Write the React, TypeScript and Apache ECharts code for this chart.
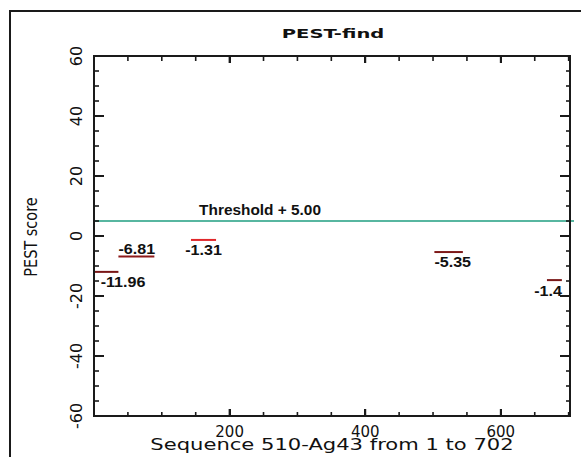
import React, { useEffect, useRef } from "react";
import * as echarts from "echarts";

// ---- data ----
const sequenceStart = 0;
const sequenceEnd = 702;
const scoreMin = -60;
const scoreMax = 60;

const xTickValues = [50, 100, 150, 200, 250, 300, 350, 400, 450, 500, 550, 600, 650, 700];
const yTickValues = [-55, -50, -45, -40, -35, -30, -25, -20, -15, -10, -5, 0, 5, 10, 15, 20, 25, 30, 35, 40, 45, 50, 55];

const segmentStart = [1, 36, 143, 502, 668];
const segmentEnd = [36, 89, 180, 544, 690];
const segmentScore = [-11.96, -6.81, -1.31, -5.35, -14.7];
const segmentLabel = ["-11.96", "-6.81", "-1.31", "-5.35", "-1.4"];

const thresholdStart = 1;
const thresholdEnd = 702;
const thresholdValue = 5;
const thresholdText = "Threshold + 5.00";

const chartTitle = "PEST-find";
const xAxisTitle = "Sequence 510-Ag43 from 1 to 702";
const yAxisTitle = "PEST score";

// ---- layout / style (not data) ----
const labelPlacement = ["below-left", "above-left", "below-center", "below-left", "below-right"];
const segmentColors = ["#7a1616", "#8e1a1a", "#e0272a", "#7e1818", "#7a1818"];
const thresholdLabelAt = 155;

export default function App() {
  const ref = useRef<HTMLDivElement>(null);

  useEffect(() => {
    if (!ref.current) return;
    const chart = echarts.init(ref.current, null, { renderer: "svg" });

    const axisFont = "DejaVu Sans";
    const labelFont = "Liberation Sans";
    const ink = "#111111";
    const stroke = "#1a1a1a";

    const makeX = (position: string, withLabels: boolean) => ({
      type: "value",
      position,
      min: sequenceStart,
      max: sequenceEnd,
      interval: 200,
      axisLine: { show: true, onZero: false, lineStyle: { color: stroke, width: 2 } },
      axisTick: { show: true, inside: true, length: 7, lineStyle: { color: stroke, width: 2 } },
      splitLine: { show: false },
      axisLabel: withLabels
        ? {
            show: true,
            margin: 8,
            color: ink,
            fontFamily: axisFont,
            fontSize: 15,
            formatter: (v: number) =>
              v > sequenceStart && v < sequenceEnd && v % 200 === 0 ? String(v) : "",
          }
        : { show: false },
    });

    const makeY = (position: string, withLabels: boolean) => ({
      type: "value",
      position,
      min: scoreMin,
      max: scoreMax,
      interval: 20,
      axisLine: { show: true, onZero: false, lineStyle: { color: stroke, width: 2 } },
      axisTick: { show: true, inside: true, length: 10, lineStyle: { color: stroke, width: 2 } },
      splitLine: { show: false },
      axisLabel: withLabels
        ? { show: true, rotate: 90, margin: 10, color: ink, fontFamily: axisFont, fontSize: 16 }
        : { show: false },
    });

    const segData = segmentStart.map((s, i) => [s, segmentEnd[i], segmentScore[i], i]);

    const option: any = {
      animation: false,
      backgroundColor: "#ffffff",
      grid: { left: 94, top: 56, right: 11, bottom: 41 },
      xAxis: [makeX("bottom", true), makeX("top", false)],
      yAxis: [makeY("left", true), makeY("right", false)],
      graphic: [
        {
          type: "rect",
          z: -10,
          shape: { x: 10, y: 11, width: 700, height: 600 },
          style: { fill: "none", stroke: "#1a1a1a", lineWidth: 2 },
        },
        {
          type: "text",
          x: 333,
          y: 34,
          scaleX: 1.5,
          style: {
            text: chartTitle,
            fontSize: 13,
            fontWeight: "bold",
            fontFamily: axisFont,
            fill: ink,
            textAlign: "center",
            textVerticalAlign: "middle",
          },
        },
        {
          type: "text",
          x: 332,
          y: 445,
          scaleX: 1.36,
          style: {
            text: xAxisTitle,
            fontSize: 15.5,
            fontFamily: axisFont,
            fill: ink,
            textAlign: "center",
            textVerticalAlign: "middle",
          },
        },
        {
          type: "text",
          x: 31,
          y: 237,
          rotation: Math.PI / 2,
          scaleY: 1.2,
          style: {
            text: yAxisTitle,
            fontSize: 14.5,
            fontFamily: axisFont,
            fill: ink,
            textAlign: "center",
            textVerticalAlign: "middle",
          },
        },
      ],
      series: [
        {
          // plot frame and inward ticks, placed through the axes' scales
          type: "custom",
          name: "frame",
          xAxisIndex: 0,
          yAxisIndex: 0,
          clip: false,
          silent: true,
          z: 5,
          data: [[sequenceStart, scoreMin]],
          renderItem: (params: any, api: any) => {
            const tl = api.coord([sequenceStart, scoreMax]);
            const br = api.coord([sequenceEnd, scoreMin]);
            const children: any[] = [
              {
                type: "rect",
                shape: { x: tl[0], y: tl[1], width: br[0] - tl[0], height: br[1] - tl[1] },
                style: { fill: "none", stroke, lineWidth: 2 },
              },
            ];
            xTickValues.forEach((v) => {
              const px = api.coord([v, scoreMin])[0];
              const major = v % 200 === 0;
              const lenB = major ? 7 : 4;
              const lenT = major ? 7 : 5;
              children.push({
                type: "line",
                shape: { x1: px, y1: br[1], x2: px, y2: br[1] - lenB },
                style: { stroke, lineWidth: major ? 2 : 1.6 },
              });
              children.push({
                type: "line",
                shape: { x1: px, y1: tl[1], x2: px, y2: tl[1] + lenT },
                style: { stroke, lineWidth: major ? 2 : 1.6 },
              });
            });
            yTickValues.forEach((v) => {
              const py = api.coord([sequenceStart, v])[1];
              const major = v % 20 === 0;
              const lenL = major ? 10 : 5;
              const lenR = major ? 9 : 4;
              children.push({
                type: "line",
                shape: { x1: tl[0], y1: py, x2: tl[0] + lenL, y2: py },
                style: { stroke, lineWidth: major ? 2 : 1.6 },
              });
              children.push({
                type: "line",
                shape: { x1: br[0], y1: py, x2: br[0] - lenR, y2: py },
                style: { stroke, lineWidth: major ? 2 : 1.6 },
              });
            });
            return { type: "group", children };
          },
        },
        {
          type: "custom",
          name: "threshold",
          xAxisIndex: 0,
          yAxisIndex: 0,
          clip: false,
          data: [[thresholdStart, thresholdEnd, thresholdValue]],
          encode: { x: [0, 1], y: 2 },
          renderItem: (params: any, api: any) => {
            const p1 = api.coord([api.value(0), api.value(2)]);
            const p2 = api.coord([api.value(1), api.value(2)]);
            const lp = api.coord([thresholdLabelAt, api.value(2)]);
            return {
              type: "group",
              children: [
                {
                  type: "line",
                  shape: { x1: p1[0], y1: p1[1], x2: p2[0] + 4, y2: p2[1] },
                  style: { stroke: "#1f9e80", lineWidth: 1.6 },
                },
                {
                  type: "text",
                  x: lp[0],
                  y: lp[1] - 4,
                  scaleX: 1.1,
                  style: {
                    text: thresholdText,
                    fontSize: 14,
                    fontWeight: "bold",
                    fontFamily: labelFont,
                    fill: ink,
                    textAlign: "left",
                    textVerticalAlign: "bottom",
                  },
                },
              ],
            };
          },
        },
        {
          type: "custom",
          name: "PEST regions",
          xAxisIndex: 0,
          yAxisIndex: 0,
          clip: false,
          data: segData,
          encode: { x: [0, 1], y: 2 },
          renderItem: (params: any, api: any) => {
            const idx = api.value(3);
            const p1 = api.coord([api.value(0), api.value(2)]);
            const p2 = api.coord([api.value(1), api.value(2)]);
            const place = labelPlacement[idx];
            let tx = p1[0];
            let ty = p1[1];
            let align = "left";
            let valign = "top";
            if (place === "below-left") {
              tx = p1[0] + (idx === 0 ? 6 : 0);
              ty = p1[1] + 3;
            } else if (place === "above-left") {
              tx = p1[0];
              ty = p1[1] - 1;
              valign = "bottom";
            } else if (place === "below-center") {
              tx = (p1[0] + p2[0]) / 2;
              ty = p1[1] + 3;
              align = "center";
            } else if (place === "below-right") {
              tx = p2[0];
              ty = p1[1] + 4;
              align = "right";
            }
            return {
              type: "group",
              children: [
                {
                  type: "line",
                  shape: { x1: p1[0], y1: p1[1], x2: p2[0], y2: p2[1] },
                  style: { stroke: segmentColors[idx], lineWidth: 2 },
                },
                {
                  type: "text",
                  x: tx,
                  y: ty,
                  scaleX: 1.15,
                  style: {
                    text: segmentLabel[idx],
                    fontSize: 14,
                    fontWeight: "bold",
                    fontFamily: labelFont,
                    fill: ink,
                    textAlign: align,
                    textVerticalAlign: valign,
                  },
                },
              ],
            };
          },
        },
      ],
    };

    chart.setOption(option);
    return () => chart.dispose();
  }, []);

  return (
    <div
      ref={ref}
      style={{ position: "absolute", left: 0, top: 0, width: 581, height: 457, background: "#fff" }}
    />
  );
}
